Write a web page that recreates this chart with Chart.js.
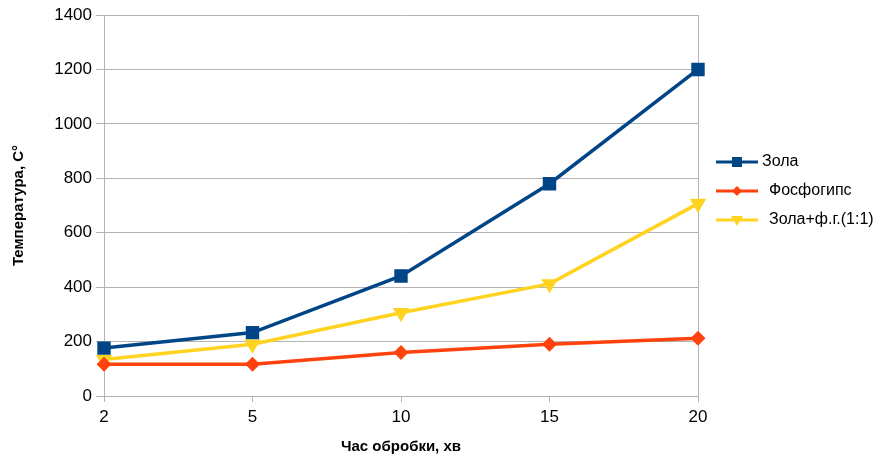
<!DOCTYPE html>
<html>
<head>
<meta charset="utf-8">
<script src="https://cdn.jsdelivr.net/npm/chart.js@4/dist/chart.umd.min.js"></script>
<style>
  html, body { margin: 0; padding: 0; background: #fff; }
  #wrap { width: 891px; height: 456px; }
</style>
</head>
<body>
<div id="wrap"><canvas id="chart" width="891" height="456"></canvas></div>
<script>
const categories = ['2', '5', '10', '15', '20'];
const zola = [176, 233, 441, 780, 1200];
const fosfogips = [117, 117, 160, 190, 212];
const zolaFg = [134, 190, 306, 412, 707];
const seriesNames = ['Зола', 'Фосфогипс', 'Зола+ф.г.(1:1)'];

const FONT = '"Liberation Sans", Arial, sans-serif';
const GRID = '#b3b3b3';

// legend drawn by hand: line with marker in the middle, like the office chart
const sideLegend = {
  id: 'sideLegend',
  afterDraw(chart) {
    const c = chart.ctx;
    const rows = [162, 191, 220];
    const textX = [762, 769, 769];
    chart.data.datasets.forEach((ds, i) => {
      const y = rows[i];
      c.save();
      c.strokeStyle = ds.borderColor;
      c.lineWidth = 3;
      c.beginPath();
      c.moveTo(716, y);
      c.lineTo(758, y);
      c.stroke();
      c.fillStyle = ds.borderColor;
      drawMarker(c, ds.pointStyle, 737, y);
      c.fillStyle = '#000';
      c.font = '16px ' + FONT;
      c.textBaseline = 'middle';
      c.fillText(ds.label, textX[i], y);
      c.restore();
    });
  }
};

function drawMarker(c, style, x, y) {
  c.beginPath();
  if (style === 'rect') {
    c.rect(x - 5, y - 5, 10, 10);
  } else if (style === 'rectRot') {
    c.moveTo(x, y - 5); c.lineTo(x + 5, y); c.lineTo(x, y + 5); c.lineTo(x - 5, y);
    c.closePath();
  } else {
    c.moveTo(x - 6, y - 4); c.lineTo(x + 6, y - 4); c.lineTo(x, y + 6);
    c.closePath();
  }
  c.fill();
}

const ctx = document.getElementById('chart').getContext('2d');
const chart = new Chart(ctx, {
  type: 'line',
  data: {
    labels: categories,
    datasets: [
      { label: seriesNames[0], data: zola, borderColor: '#004586', backgroundColor: '#004586',
        pointStyle: 'rect', pointRadius: 7, borderWidth: 3.5, fill: false },
      { label: seriesNames[1], data: fosfogips, borderColor: '#ff420e', backgroundColor: '#ff420e',
        pointStyle: 'rectRot', pointRadius: 5, borderWidth: 3.5, fill: false },
      { label: seriesNames[2], data: zolaFg, borderColor: '#ffd320', backgroundColor: '#ffd320',
        pointStyle: 'triangle', rotation: 180, pointRadius: 6, borderWidth: 3.5, fill: false }
    ]
  },
  options: {
    responsive: false,
    animation: false,
    layout: { padding: { left: 0, right: 193, top: 15, bottom: 0 } },
    plugins: {
      legend: { display: false },
      tooltip: { enabled: false }
    },
    elements: { line: { tension: 0 }, point: { borderWidth: 0 } },
    scales: {
      x: {
        offset: false,
        // only the right-hand frame line is drawn inside the plot, the rest are tick marks
        grid: {
          color: (c) => c.index === categories.length - 1 ? GRID : 'rgba(0,0,0,0)',
          tickColor: GRID, lineWidth: 1, tickLength: 6
        },
        border: { color: GRID },
        ticks: { color: '#000', font: { family: FONT, size: 17 }, padding: 5, maxRotation: 0 },
        title: { display: true, text: 'Час обробки, хв', color: '#000',
                 font: { family: FONT, size: 15, weight: 'bold' }, padding: { top: 4, bottom: 0 } },
        afterFit(scale) { scale.height = 60; }
      },
      y: {
        min: 0, max: 1400,
        ticks: { stepSize: 200, color: '#000', font: { family: FONT, size: 17 }, padding: 4,
                 callback: (v) => String(v) },
        grid: { color: GRID, lineWidth: 1, tickLength: 8 },
        border: { color: GRID },
        title: { display: true, text: 'Температура, С°', color: '#000',
                 font: { family: FONT, size: 15, weight: 'bold' }, padding: { top: 10, bottom: 6 } },
        afterFit(scale) { scale.width = 104; }
      }
    }
  },
  plugins: [sideLegend]
});
</script>
</body>
</html>
